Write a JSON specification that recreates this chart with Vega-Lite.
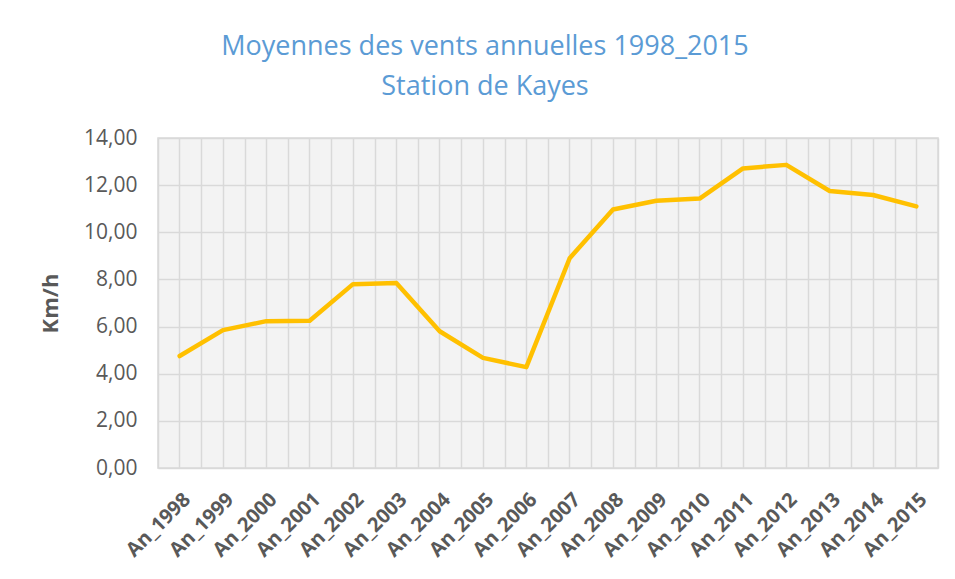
{
  "$schema": "https://vega.github.io/schema/vega-lite/v6.json",
  "width": 780,
  "height": 330,
  "autosize": {"type": "none"},
  "padding": {"left": 158, "top": 138, "right": 17, "bottom": 111},
  "background": "white",
  "title": {
    "text": ["Moyennes des vents annuelles 1998_2015", "Station de Kayes"],
    "color": "#5B9BD5",
    "font": "Open Sans",
    "fontSize": 27,
    "fontWeight": "normal",
    "lineHeight": 40,
    "anchor": "middle",
    "frame": "group",
    "dx": -63,
    "offset": 26
  },
  "config": {
    "view": {"fill": "#f3f3f3", "stroke": "#d9d9d9", "strokeWidth": 1.5},
    "axis": {"labelFont": "Open Sans", "titleFont": "Open Sans", "labelColor": "#595959", "titleColor": "#595959"}
  },
  "data": {
    "values": [
      {"annee": "An_1998", "vitesse": 4.75},
      {"annee": "An_1999", "vitesse": 5.85},
      {"annee": "An_2000", "vitesse": 6.23},
      {"annee": "An_2001", "vitesse": 6.25},
      {"annee": "An_2002", "vitesse": 7.8},
      {"annee": "An_2003", "vitesse": 7.85},
      {"annee": "An_2004", "vitesse": 5.8},
      {"annee": "An_2005", "vitesse": 4.67},
      {"annee": "An_2006", "vitesse": 4.28},
      {"annee": "An_2007", "vitesse": 8.9},
      {"annee": "An_2008", "vitesse": 10.97},
      {"annee": "An_2009", "vitesse": 11.34},
      {"annee": "An_2010", "vitesse": 11.43},
      {"annee": "An_2011", "vitesse": 12.71},
      {"annee": "An_2012", "vitesse": 12.86},
      {"annee": "An_2013", "vitesse": 11.75},
      {"annee": "An_2014", "vitesse": 11.58},
      {"annee": "An_2015", "vitesse": 11.1}
    ]
  },
  "encoding": {
    "y": {
      "field": "vitesse",
      "type": "quantitative",
      "scale": {"domain": [0, 14], "nice": false, "zero": true},
      "axis": {
        "values": [0, 2, 4, 6, 8, 10, 12, 14],
        "labelExpr": "replace(format(datum.value, '.2f'), '.', ',')",
        "labelFontSize": 21,
        "labelPadding": 21,
        "ticks": false,
        "domain": false,
        "grid": true,
        "gridColor": "#d9d9d9",
        "gridWidth": 1.5,
        "title": "Km/h",
        "titleFontSize": 22,
        "titleFontWeight": "bold",
        "titlePadding": 21
      }
    }
  },
  "layer": [
    {
      "mark": {"type": "line", "opacity": 0},
      "encoding": {
        "x": {
          "field": "annee",
          "type": "ordinal",
          "sort": null,
          "axis": {
            "orient": "top",
            "labels": false,
            "ticks": false,
            "domain": false,
            "grid": true,
            "gridColor": "#d9d9d9",
            "gridWidth": 1.5,
            "title": null
          }
        }
      }
    },
    {
      "mark": {"type": "line", "color": "#FFC000", "strokeWidth": 4.5, "strokeJoin": "round", "strokeCap": "round"},
      "encoding": {
        "x": {
          "field": "annee",
          "type": "ordinal",
          "sort": null,
          "axis": {
            "orient": "bottom",
            "tickBand": "extent",
            "ticks": false,
            "domain": false,
            "grid": true,
            "gridColor": "#d9d9d9",
            "gridWidth": 1.5,
            "labelAngle": -45,
            "labelFontSize": 20,
            "labelFontWeight": "bold",
            "labelPadding": 21,
            "title": null
          }
        }
      }
    }
  ],
  "resolve": {"axis": {"x": "independent"}}
}
